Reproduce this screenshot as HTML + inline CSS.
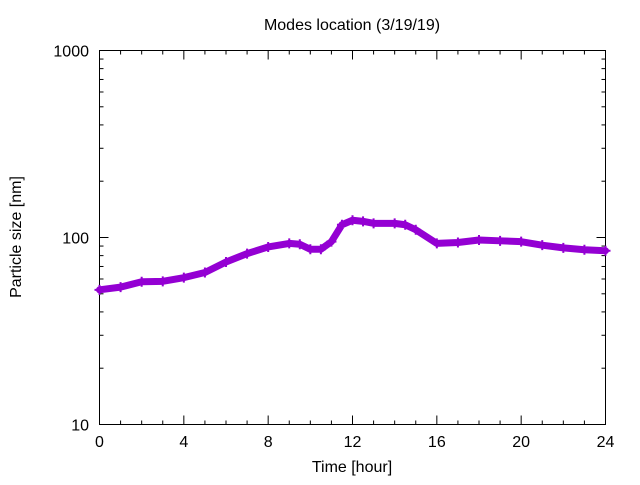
<!DOCTYPE html>
<html><head><meta charset="utf-8"><style>
body{margin:0;background:#fff}
svg text{font-family:"Liberation Sans",sans-serif;font-size:16px;fill:#000}
</style></head><body>
<svg id="c" width="640" height="480">
<text x="352" y="30" text-anchor="middle">Modes location (3/19/19)</text>
<text x="352" y="472" text-anchor="middle">Time [hour]</text>
<text transform="translate(21,237) rotate(-90)" text-anchor="middle">Particle size [nm]</text>
<g id="ax"></g>
<g id="dt"></g>
</svg>
<script>
const hours=[0,1,2,3,4,5,6,7,8,9,9.5,10,10.5,11,11.5,12,12.5,13,14,14.5,15,16,17,18,19,20,21,22,23,24];
const sizes=[52.5,54.3,58,58.3,61,65,74,82,89,93,92,86.5,86.5,95,117,123.7,122,119,119,117,110,93,94,97,96,95,91,88,86,85];
const xTicks=[0,4,8,12,16,20,24];
const yTicks=[10,100,1000];
const X0=99.5,X1=605.5,Y0=424.5,Y1=50.5;
const xs=h=>X0+(X1-X0)*h/24;
const ys=v=>Y0-(Y0-Y1)*(Math.log10(v)-1)/2;
const NS='http://www.w3.org/2000/svg';
const ax=document.getElementById('ax'),dt=document.getElementById('dt');
function mk(p,t,a){const e=document.createElementNS(NS,t);for(const k in a)e.setAttribute(k,a[k]);p.appendChild(e);return e;}
const fr=mk(ax,'rect',{x:X0,y:Y1,width:X1-X0,height:Y0-Y1,fill:'none',stroke:'#000','stroke-width':1});


for(let h=0;h<=24;h++){const L=h%4==0?9:4;const x=xs(h);
mk(ax,'line',{x1:x,x2:x,y1:Y0,y2:Y0-L,stroke:'#000'});mk(ax,'line',{x1:x,x2:x,y1:Y1,y2:Y1+L,stroke:'#000'});}
xTicks.forEach(h=>{const t=mk(ax,'text',{x:xs(h),y:447,'text-anchor':'middle'});t.textContent=h;

});
for(let d=10;d<1000;d*=10)for(let m=1;m<=10;m++){const v=d*m;const L=m==1||m==10?9:4;const y=ys(v);
mk(ax,'line',{x1:X0,x2:X0+L,y1:y,y2:y,stroke:'#000'});mk(ax,'line',{x1:X1,x2:X1-L,y1:y,y2:y,stroke:'#000'});}
yTicks.forEach(v=>{const t=mk(ax,'text',{x:89,y:ys(v)+6,'text-anchor':'end'});t.textContent=v;

});
const pts=hours.map((h,i)=>xs(h)+','+ys(sizes[i])).join(' ');
const pl=mk(dt,'polyline',{points:pts,fill:'none',stroke:'#9400d3','stroke-width':7,'stroke-linejoin':'round','stroke-linecap':'round'});


hours.forEach((h,i)=>{const x=xs(h),y=ys(sizes[i]);
const p=mk(dt,'path',{d:`M${x-5},${y}h10M${x},${y-5}v10`,stroke:'#9400d3','stroke-width':2});

});
</script>
</body></html>
